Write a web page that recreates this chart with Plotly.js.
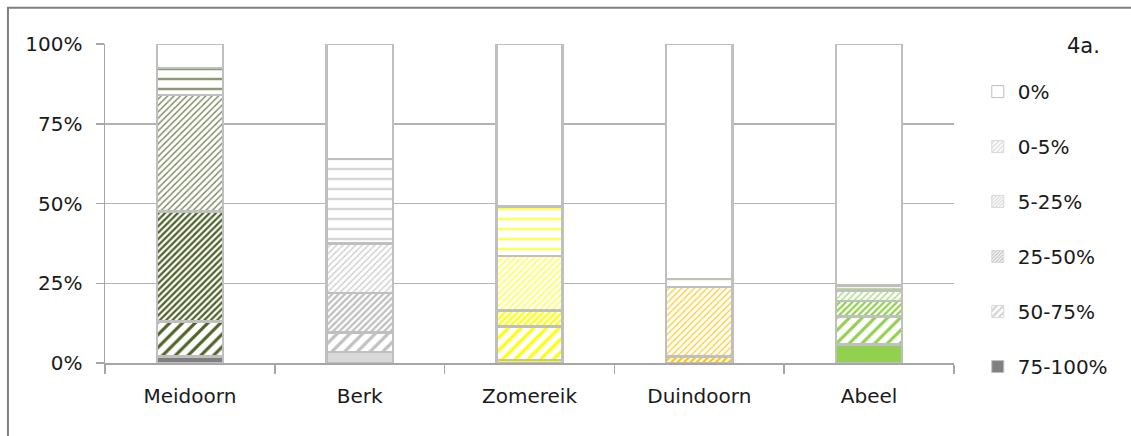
<!DOCTYPE html>
<html>
<head>
<meta charset="utf-8">
<script src="https://cdn.plot.ly/plotly-3.0.1.min.js"></script>
<style>
html,body{margin:0;padding:0;background:#fff;}
#chart{width:1131px;height:436px;}
</style>
</head>
<body>
<div id="chart"></div>
<script>
// Data (percent of trees per damage class)
const categories = ["Meidoorn", "Berk", "Zomereik", "Duindoorn", "Abeel"];
const seriesNames = ["75-100%", "50-75%", "25-50%", "5-25%", "0-5%", "0%"];
const v75_100 = [2, 3.5, 1, 0, 5.8];
const v50_75  = [11, 6, 10.5, 0, 8.8];
const v25_50  = [34.5, 12.5, 5, 2, 4.9];
const v5_25   = [36.5, 15.5, 17, 21.8, 3.3];
const v0_5    = [8.5, 26.5, 15.5, 2.6, 1.5];
const v0      = [7.5, 36, 51, 73.6, 75.7];
const yTickVals = [0, 25, 50, 75, 100];
const yTickText = ["0%", "25%", "50%", "75%", "100%"];

// Styling
const treeColors = ["#4f6228", "#bfbfbf", "#ffff00", "#ffc000", "#92d050"];
const solidColors = ["#7f7f7f", "#d9d9d9", "#ffff00", "#ffc000", "#92d050"];
const outline = {color: "#bfbfbf", width: 2.5};
const FONT = "DejaVu Sans, sans-serif";
const FS = 20;
const BW = 0.39;

const styles = [
  {name: seriesNames[0], y: v75_100, marker: {color: solidColors, line: outline}},
  {name: seriesNames[1], y: v50_75, marker: {color: "white", line: outline,
     pattern: {shape: "/", fgcolor: treeColors, bgcolor: "white", size: 9, solidity: 0.35}}},
  {name: seriesNames[2], y: v25_50, marker: {color: "white", line: outline,
     pattern: {shape: "/", fgcolor: treeColors, bgcolor: "white", size: 4.5, solidity: 0.5}}},
  {name: seriesNames[3], y: v5_25, marker: {color: "white", line: outline,
     pattern: {shape: "/", fgcolor: treeColors, bgcolor: "white", size: 4.5, solidity: 0.3, fgopacity: 0.8}}},
  {name: seriesNames[4], y: v0_5, marker: {color: "white", line: outline,
     pattern: {shape: "-", fgcolor: treeColors, bgcolor: "white", size: 10, solidity: 0.25, fgopacity: 0.65}}},
  {name: seriesNames[5], y: v0, marker: {color: "white", line: outline}}
];

const traces = styles.map(s => ({
  type: "bar", x: categories, y: s.y, name: s.name, marker: s.marker,
  width: BW, showlegend: false, hoverinfo: "x+y+name"
}));

// legend-only entries in grey (top entry first)
const legendStyles = [
  {color: "#808080", line: {color: "#bfbfbf", width: 1}},
  {color: "white", line: {color: "#d9d9d9", width: 1}, pattern: {shape: "/", fgcolor: "#d0d0d0", bgcolor: "white", size: 6, solidity: 0.4}},
  {color: "white", line: {color: "#d9d9d9", width: 1}, pattern: {shape: "/", fgcolor: "#bfbfbf", bgcolor: "white", size: 3, solidity: 0.5}},
  {color: "white", line: {color: "#d9d9d9", width: 1}, pattern: {shape: "/", fgcolor: "#cfcfcf", bgcolor: "white", size: 3, solidity: 0.4}},
  {color: "white", line: {color: "#d9d9d9", width: 1}, pattern: {shape: "/", fgcolor: "#d9d9d9", bgcolor: "white", size: 4, solidity: 0.4}},
  {color: "white", line: {color: "#bfbfbf", width: 1}}
];
for (let i = legendStyles.length - 1; i >= 0; i--) {
  traces.push({type: "bar", x: [null], y: [null], name: seriesNames[i],
    marker: legendStyles[i], showlegend: true, legendgroup: "g" + (5 - i), hoverinfo: "skip"});
}

const layout = {
  width: 1131, height: 436,
  margin: {l: 105, r: 177, t: 43.5, b: 72.5, autoexpand: false},
  paper_bgcolor: "white", plot_bgcolor: "white",
  barmode: "stack", bargap: 0.6,
  font: {family: FONT, size: FS, color: "#1a1a1a"},
  xaxis: {
    type: "category", tickson: "boundaries", ticks: "outside", ticklen: 9,
    tickcolor: "#a6a6a6", tickwidth: 1.5, showline: true, linecolor: "#a6a6a6", linewidth: 1.5,
    showgrid: false, tickfont: {family: FONT, size: FS, color: "#1a1a1a"},
    ticklabelstandoff: 14, fixedrange: true
  },
  yaxis: {
    range: [0, 100], tickvals: yTickVals, ticktext: yTickText,
    ticks: "outside", ticklen: 8, tickcolor: "#a6a6a6", tickwidth: 1.5,
    showline: true, linecolor: "#a6a6a6", linewidth: 1.5,
    showgrid: true, gridcolor: "#b3b3b3", gridwidth: 1.5, zeroline: false,
    tickfont: {family: FONT, size: FS, color: "#1a1a1a"}, ticklabelstandoff: 9, fixedrange: true
  },
  legend: {
    x: 1.028, xanchor: "left", y: 0.912, yanchor: "top",
    traceorder: "grouped", tracegroupgap: 26,
    font: {family: FONT, size: FS, color: "#1a1a1a"}, bgcolor: "rgba(0,0,0,0)"
  },
  annotations: [{
    text: "4a.", xref: "paper", yref: "paper", x: 1.153, y: 0.995,
    xanchor: "center", yanchor: "middle", showarrow: false,
    font: {family: FONT, size: 21, color: "#1a1a1a"}
  }],
  shapes: [{
    type: "rect", xref: "paper", yref: "paper",
    x0: -0.1143, x1: 2, y0: -2, y1: 1.114,
    line: {color: "#7f7f7f", width: 2}, fillcolor: "rgba(0,0,0,0)", layer: "below"
  }]
};

Plotly.newPlot("chart", traces, layout, {displayModeBar: false, staticPlot: true});
</script>
</body>
</html>
